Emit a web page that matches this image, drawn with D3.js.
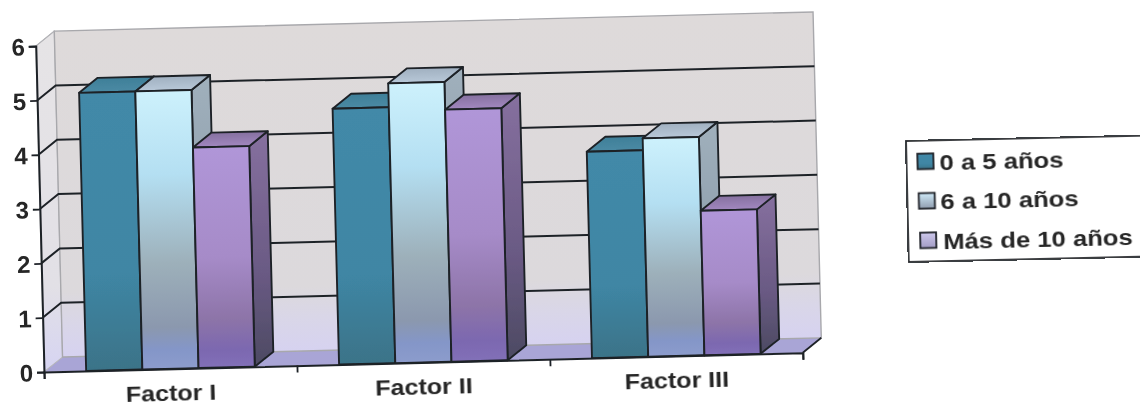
<!DOCTYPE html>
<html><head><meta charset="utf-8">
<script src="https://cdn.jsdelivr.net/npm/d3@7/dist/d3.min.js"></script>
<style>
html,body{margin:0;padding:0;background:#fff;overflow:hidden}
text{font-family:"Liberation Sans",Arial,sans-serif;font-weight:bold;fill:#262626}
</style></head><body>
<svg id="c" width="1140" height="407"></svg>
<script>
const categories = ["Factor I","Factor II","Factor III"];
const seriesNames = ["0 a 5 años","6 a 10 años","Más de 10 años"];
const values0a5 = [5.12,4.71,3.8];
const values6a10 = [5.12,5.15,4.02];
const valuesMas10 = [4.06,4.64,2.66];
const yTicks = [0,1,2,3,4,5,6];

const allValues=[values0a5,values6a10,valuesMas10];
const svg=d3.select("#c");
const defs=svg.append("defs");
function grad(id,stops){
  const g=defs.append("linearGradient").attr("id",id).attr("x1",0).attr("x2",0).attr("y1",0).attr("y2",1);
  stops.forEach(s=>g.append("stop").attr("offset",s[0]).attr("stop-color",s[1]));
}
grad("wall",[[0,"#dedada"],[.8,"#dcd9dc"],[.9,"#d9d6e8"],[1,"#d6d2f0"]]);
grad("side",[[0,"#e6e4e6"],[.75,"#e2e0e6"],[1,"#d6d4f2"]]);
grad("f0",[[0,"#4289a8"],[.65,"#3f86a4"],[1,"#3b7388"]]);
grad("f1",[[0,"#cdf1fc"],[.3,"#b4dff2"],[.62,"#9db0ba"],[.85,"#8b98ae"],[.93,"#8496c8"],[1,"#8c9ccc"]]);
grad("f2",[[0,"#b096d8"],[.5,"#a68bc8"],[.78,"#8d74a8"],[.92,"#7c68b0"],[1,"#8270b8"]]);
grad("s0",[[0,"#3a7890"],[1,"#2d5f74"]]);
grad("s1",[[0,"#a0b0bc"],[1,"#7f90a0"]]);
grad("s2",[[0,"#86709f"],[.6,"#6a5a84"],[1,"#4c4a62"]]);
grad("t0",[[0,"#3f7f98"],[1,"#4a8aa4"]]);
grad("t1",[[0,"#a0b0c0"],[1,"#b8c8d8"]]);
grad("t2",[[0,"#85709f"],[1,"#a288c0"]]);
grad("l1",[[0,"#cfeaf8"],[1,"#8f9cae"]]);
grad("l2",[[0,"#cdc8ec"],[1,"#a29cc4"]]);
const filt=defs.append("filter").attr("id","soft").attr("x","-2%").attr("y","-2%").attr("width","104%").attr("height","104%");
filt.append("feGaussianBlur").attr("stdDeviation",0.6);

const root=svg.append("g").attr("filter","url(#soft)");
const L=759,H=326,dx=18.9,dy=-14.5;
const g=root.append("g").attr("transform","translate(44,372) rotate(-1.45)");
const y=d3.scaleLinear().domain([0,6]).range([0,-H]);
const x0=d3.scaleBand().domain(categories).range([0,L]).paddingInner(1/3).paddingOuter(1/6);
const x1=d3.scaleBand().domain(d3.range(3)).range([0,x0.bandwidth()]);
const poly=p=>d3.line()(p)+"Z";
const dark="#1f2228";

// floor, walls
g.append("path").attr("d",poly([[0,0],[L,0],[L+dx,dy],[dx,dy]])).attr("fill","#a9a5d6");
g.append("path").attr("d",poly([[0,y(6)],[dx,y(6)+dy],[dx,dy],[0,0]])).attr("fill","url(#side)").attr("stroke","#b4b4b8");
g.append("rect").attr("x",dx).attr("y",y(6)+dy).attr("width",L).attr("height",H).attr("fill","url(#wall)").attr("stroke","#a8a8ac").attr("stroke-width",1.4);
// grid
yTicks.filter(t=>t>0&&t<6).forEach(t=>{
  g.append("path").attr("d",d3.line()([[0,y(t)],[dx,y(t)+dy],[L+dx,y(t)+dy]])).attr("fill","none").attr("stroke",dark).attr("stroke-width",2);
});
g.append("path").attr("d",d3.line()([[0,y(6)],[dx,y(6)+dy]])).attr("fill","none").attr("stroke","#b4b4b8");
g.append("path").attr("d",d3.line()([[L,0],[L+dx,dy]])).attr("fill","none").attr("stroke",dark).attr("stroke-width",1.8);

// bars
categories.forEach((c,ci)=>{
  allValues.forEach((vals,si)=>{
    const xl=x0(c)+x1(si), xr=xl+x1.bandwidth(), yt=y(vals[ci]);
    const b=g.append("g").attr("stroke",dark).attr("stroke-width",1.9).attr("stroke-linejoin","round");
    b.append("path").attr("d",poly([[xr,yt],[xr+dx,yt+dy],[xr+dx,dy],[xr,0]])).attr("fill",`url(#s${si})`);
    b.append("path").attr("d",poly([[xl,yt],[xl+dx,yt+dy],[xr+dx,yt+dy],[xr,yt]])).attr("fill",`url(#t${si})`);
    b.append("rect").attr("x",xl).attr("y",yt).attr("width",x1.bandwidth()).attr("height",-yt).attr("fill",`url(#f${si})`);
  });
});

// axes
const yAxis=d3.axisLeft(y).tickValues(yTicks).tickFormat(d3.format("d")).tickSize(7).tickPadding(4);
const ya=g.append("g").call(yAxis);
ya.selectAll("text").attr("font-size",24).attr("dy","0.36em");
const xEdges=d3.scalePoint().domain(d3.range(4)).range([0,L]);
g.append("g").call(d3.axisBottom(xEdges).tickSize(7).tickFormat(""));
g.selectAll(".domain").attr("stroke",dark).attr("stroke-width",2);
g.selectAll(".tick line").attr("stroke",dark).attr("stroke-width",1.8);
g.selectAll(".tick text").attr("fill","#262626").attr("font-family",null).attr("text-anchor","end");
categories.forEach(c=>{
  const cx=x0(c)+x0.bandwidth()/2;
  g.append("text").attr("transform",`translate(${cx},32) scale(1.14,1)`).attr("text-anchor","middle").attr("font-size",22).text(c);
});

// legend
const lg=root.append("g").attr("transform","translate(906,141) rotate(-1.3)");
lg.append("rect").attr("x",0).attr("y",0).attr("width",250).attr("height",121).attr("fill","#fff").attr("stroke","#26282c").attr("stroke-width",1.8);
const swatches=["f0","l1","l2"];
seriesNames.forEach((n,i)=>{
  const yy=13+i*39.5;
  lg.append("rect").attr("x",11+i*0.5).attr("y",yy).attr("width",16).attr("height",15.5).attr("fill",`url(#${swatches[i]})`).attr("stroke",dark).attr("stroke-width",1.8);
  lg.append("text").attr("transform",`translate(${33+(i==2?2:0)},${yy+16.5}) scale(1.14,1)`).attr("font-size",22.5).text(n);
});
</script></body></html>
